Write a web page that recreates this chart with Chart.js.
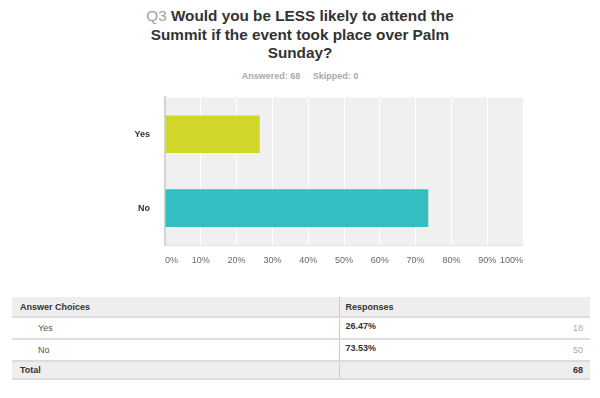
<!DOCTYPE html>
<html>
<head>
<meta charset="utf-8">
<script src="https://cdn.jsdelivr.net/npm/chart.js@4/dist/chart.umd.min.js"></script>
<style>
  body { margin: 0; width: 600px; height: 398px; background: #fff; font-family: "Liberation Sans", Arial, sans-serif; position: relative; overflow: hidden; }
  .title { position: absolute; left: 0; top: 7px; width: 600px; text-align: center; font-size: 15.3px; font-weight: bold; line-height: 18.5px; color: #333; }
  .title .q { color: #a0a0a0; font-weight: normal; }
  .sub { position: absolute; left: 0; top: 71px; width: 600px; text-align: center; font-size: 9px; font-weight: bold; color: #aaa; }
  .sub span { margin: 0 5px; }
  #wrap { position: absolute; left: 0; top: 85px; width: 600px; height: 190px; }
  table { position: absolute; left: 12px; top: 297px; width: 578px; border-collapse: collapse; table-layout: fixed; font-size: 9px; color: #333; }
  td { padding: 0; border-bottom: 2px solid #ddd; box-sizing: border-box; }
  tr.head td { background: #eeeeee; font-weight: bold; height: 20px; }
  tr.total td { background: #eeeeee; font-weight: bold; height: 18px; }
  tr.row td { height: 22px; }
  td.c1 { border-right: 1px solid #ccc; padding-left: 8px; }
  td.c2 { padding-left: 6px; }
  tr.row td.c1 { padding-left: 26px; color: #555; }
  .pct { font-weight: bold; display: block; margin-top: -4px; }
  td.cnt { text-align: right; padding-right: 7px; color: #aaa; }
  tr.total td.cnt { color: #333; }
</style>
</head>
<body>
<div class="title"><span class="q">Q3</span> Would you be LESS likely to attend the<br>Summit if the event took place over Palm<br>Sunday?</div>
<div class="sub"><span>Answered: 68</span> <span>Skipped: 0</span></div>
<div id="wrap"><canvas id="chart"></canvas></div>
<table id="tbl"><colgroup><col style="width:327px"><col style="width:180px"><col style="width:71px"></colgroup></table>
<script>
const categories = ['Yes', 'No'];
const percents = [26.47, 73.53];
const counts = [18, 50];
const total = 68;
const barColors = ['#d0d72a', '#33bfc1'];
const tickValues = [0, 10, 20, 30, 40, 50, 60, 70, 80, 90, 100];

// gray plot background behind bars
const plotBg = {
  id: 'plotBg',
  beforeDraw(chart) {
    const a = chart.chartArea, c = chart.ctx;
    c.save();
    c.fillStyle = '#f0f0f0';
    c.fillRect(a.left, a.top, a.right - a.left, a.bottom - a.top);
    c.restore();
  }
};

new Chart(document.getElementById('chart'), {
  type: 'bar',
  data: {
    labels: categories,
    datasets: [{
      data: percents,
      backgroundColor: barColors,
      categoryPercentage: 1,
      barPercentage: 0.51
    }]
  },
  options: {
    indexAxis: 'y',
    responsive: true,
    maintainAspectRatio: false,
    animation: false,
    layout: { padding: { top: 10, right: 77, left: 0, bottom: 0 } },
    plugins: { legend: { display: false }, tooltip: { enabled: false } },
    scales: {
      x: {
        min: 0, max: 100,
        afterBuildTicks(axis) { axis.ticks = tickValues.map(v => ({ value: v })); },
        afterFit(axis) { axis.height = 30; },
        grid: { color: '#ffffff', lineWidth: 1, drawTicks: false },
        border: { display: true, color: '#e2e2e2' },
        ticks: {
          align: 'inner',
          padding: 10,
          color: '#666',
          font: { family: 'Liberation Sans', size: 9 },
          callback: v => v + '%'
        }
      },
      y: {
        afterFit(axis) { axis.width = 165; },
        grid: { display: false },
        border: { display: true, color: '#d4d4d4', width: 2 },
        ticks: {
          padding: 7,
          color: '#333',
          font: { family: 'Liberation Sans', size: 9, weight: 'bold' }
        }
      }
    }
  },
  plugins: [plotBg]
});

// response table
const tbl = document.getElementById('tbl');
let html = '<tr class="head"><td class="c1">Answer Choices</td><td class="c2">Responses</td><td class="cnt"></td></tr>';
categories.forEach((cat, i) => {
  html += '<tr class="row"><td class="c1">' + cat + '</td><td class="c2"><span class="pct">' +
    percents[i].toFixed(2) + '%</span></td><td class="cnt">' + counts[i] + '</td></tr>';
});
html += '<tr class="total"><td class="c1">Total</td><td class="c2"></td><td class="cnt">' + total + '</td></tr>';
tbl.insertAdjacentHTML('beforeend', html);
</script>
</body>
</html>
